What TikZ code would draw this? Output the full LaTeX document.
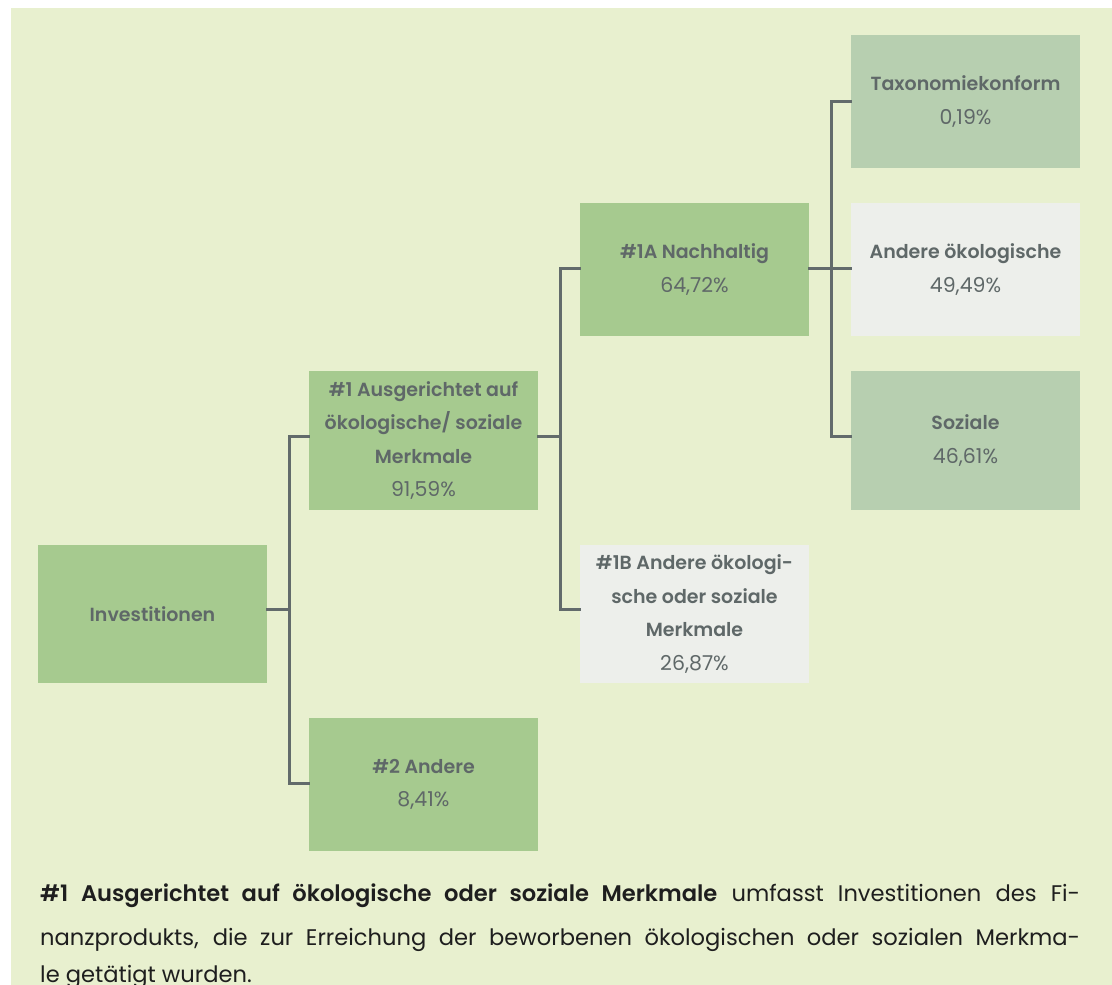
\documentclass[tikz,border=0pt]{standalone}
\usepackage{fontspec}
\setmainfont{Poppins}[BoldFont={Poppins SemiBold}]
\definecolor{bgc}{HTML}{E8F0CF}
\definecolor{greenbox}{HTML}{A6CA8F}
\definecolor{sagebox}{HTML}{B7CFB0}
\definecolor{greybox}{HTML}{EDEFEB}
\definecolor{txt}{HTML}{5F6868}
\definecolor{conncol}{HTML}{626B6B}
\definecolor{bodytxt}{HTML}{1E1E1E}
\newcommand\pctval[1]{{\fontsize{20.5}{33.5}\selectfont #1}}
\begin{document}
\begin{tikzpicture}[x=1pt,y=-1pt,
  box/.style={rectangle, inner sep=0pt, minimum width=229pt, minimum height=133pt,
    align=center, text=txt, font=\fontsize{19}{33.5}\selectfont},
  gbox/.style={box, fill=greenbox},
  sbox/.style={box, fill=sagebox},
  wbox/.style={box, fill=greybox},
  conn/.style={draw=conncol, line width=3pt, line join=miter, line cap=rect},
  body/.style={anchor=base west, inner sep=0pt, text=bodytxt, font=\fontsize{22.6}{24}\selectfont}]
\useasboundingbox (0,0) rectangle (1112,985);
\fill[bgc] (11,8) rectangle (1112,985);

\node[gbox, minimum height=138pt] (inv) at (152.5,614) {\textbf{Investitionen}};
\node[gbox, minimum height=139pt] (a1) at (423.5,440.5) {\textbf{\#1 Ausgerichtet auf}\\ \textbf{ökologische/ soziale}\\ \textbf{Merkmale}\\ \pctval{91,59\%}};
\node[gbox] (a2) at (423.5,784.5) {\textbf{\#2 Andere}\\ \pctval{8,41\%}};
\node[gbox] (n1a) at (694.5,269.5) {\textbf{\#1A Nachhaltig}\\ \pctval{64,72\%}};
\node[wbox, minimum height=138pt] (n1b) at (694.5,614) {\textbf{\#1B Andere ökologi-}\\ \textbf{sche oder soziale}\\ \textbf{Merkmale}\\ \pctval{26,87\%}};
\node[sbox] (tax) at (965.5,101.5) {\textbf{Taxonomiekonform}\\ \pctval{0,19\%}};
\node[wbox] (oek) at (965.5,269.5) {\textbf{Andere ökologische}\\ \pctval{49,49\%}};
\node[sbox, minimum height=139pt] (soz) at (965.5,440.5) {\textbf{Soziale}\\ \pctval{46,61\%}};

\coordinate (j1) at (289,0);
\coordinate (j2) at (560,0);
\coordinate (j3) at (831,0);

\draw[conn] ([yshift=5pt]inv.east) -- ([yshift=5pt]inv.east -| j1);
\draw[conn] ([yshift=4.5pt]a1.west) -- ([yshift=4.5pt]a1.west -| j1) -- ([yshift=1.5pt]a2.west -| j1) -- ([yshift=1.5pt]a2.west);

\draw[conn] ([yshift=4.5pt]a1.east) -- ([yshift=4.5pt]a1.east -| j2);
\draw[conn] ([yshift=1.5pt]n1a.west) -- ([yshift=1.5pt]n1a.west -| j2) -- ([yshift=5pt]n1b.west -| j2) -- ([yshift=5pt]n1b.west);

\draw[conn] ([yshift=1.5pt]n1a.east) -- ([yshift=1.5pt]oek.west);
\draw[conn] ([yshift=0.5pt]tax.west) -- ([yshift=0.5pt]tax.west -| j3) -- ([yshift=4.5pt]soz.west -| j3) -- ([yshift=4.5pt]soz.west);

\node[body] (l1) at (40,901) {\makebox[1040pt][s]{\textbf{\#1 Ausgerichtet auf ökologische oder soziale Merkmale} umfasst Investitionen des Fi-}};
\node[body] (l2) at (40,945) {\makebox[1040pt][s]{nanzprodukts, die zur Erreichung der beworbenen ökologischen oder sozialen Merkma-}};
\node[body] (l3) at (40,982) {le getätigt wurden.};
\end{tikzpicture}
\end{document}
